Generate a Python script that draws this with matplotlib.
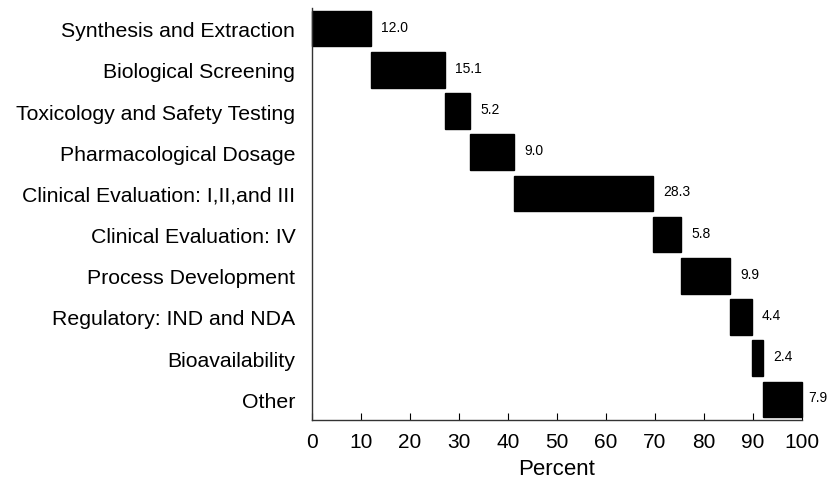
import matplotlib
matplotlib.use("Agg")
import matplotlib.pyplot as plt
import numpy as np

categories = ["Synthesis and Extraction", "Biological Screening", "Toxicology and Safety Testing",
              "Pharmacological Dosage", "Clinical Evaluation: I,II,and III", "Clinical Evaluation: IV",
              "Process Development", "Regulatory: IND and NDA", "Bioavailability", "Other"]
values = [12.0, 15.1, 5.2, 9.0, 28.3, 5.8, 9.9, 4.4, 2.4, 7.9]
xticks = [0, 10, 20, 30, 40, 50, 60, 70, 80, 90, 100]

plt.rcParams['font.family'] = ['Liberation Sans', 'DejaVu Sans']

fig = plt.figure(figsize=(8.3, 4.85), dpi=100)
ax = fig.add_axes([0.3759, 0.1320, 0.5904, 0.8494])

vals = np.array(values)
starts = np.concatenate([[0], np.cumsum(vals)[:-1]])
y = np.arange(len(categories))
ax.barh(y, vals, left=starts, height=0.86, color='black', edgecolor='black', clip_on=False)
for yi, s, v in zip(y, starts, vals):
    xpos = min(s + v + 2.1, 101.2)
    ax.text(xpos, yi - 0.05, f"{v:.1f}", va='center', ha='left', fontsize=10, clip_on=False)

ax.set_yticks(y)
ax.set_yticklabels(categories, fontsize=15.3)
ax.set_ylim(9.5, -0.5)
ax.set_xlim(0, 100)
ax.set_xticks(xticks)
ax.set_xticklabels([str(t) for t in xticks], fontsize=15)
ax.tick_params(axis='x', direction='in', length=5, width=0.8, pad=9)
ax.tick_params(axis='y', length=0, pad=12)
ax.set_xlabel("Percent", fontsize=16, labelpad=5)
for s in ['top', 'right']:
    ax.spines[s].set_visible(False)
for s in ['left', 'bottom']:
    ax.spines[s].set_linewidth(1.0)
    ax.spines[s].set_color('#333333')

fig.savefig("out.png", dpi=100)
